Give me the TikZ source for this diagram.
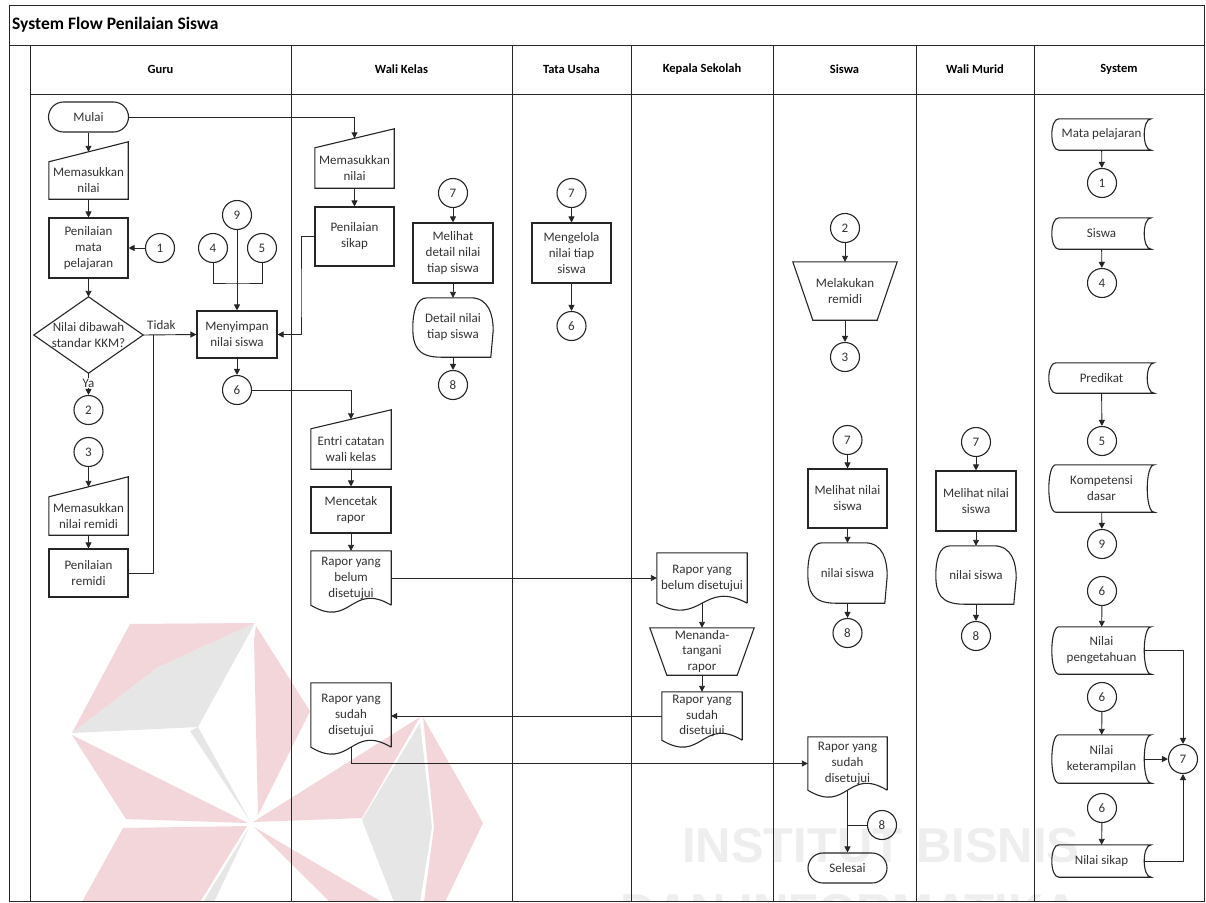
\documentclass[tikz,border=0pt]{standalone}
\usepackage{fontspec}
\setmainfont{Carlito}
\newfontfamily\wmfont{Liberation Sans}
\usetikzlibrary{arrows.meta,calc}

\definecolor{ink}{HTML}{262626}
\definecolor{txt}{HTML}{333333}
\definecolor{wmpink}{HTML}{F3D6DA}
\definecolor{wmgray}{HTML}{E6E6E6}
\definecolor{wmtext}{HTML}{EEEEEE}

\newcommand\bodyfont{\fontsize{13}{16}\selectfont}
\newcommand\headfont{\fontsize{12.5}{15}\selectfont\bfseries}
\newcommand\titlefont{\fontsize{17.5}{20}\selectfont\bfseries}

% outline helpers: each one draws a flowchart symbol around a named node
\newcommand\ShpManIn[2]{\draw[outline] (#1.north west) -- ($(#1.north east)+(0,-#2)$) -- (#1.south east) -- (#1.south west) -- cycle;}
\newcommand\ShpDoc[2]{\draw[outline] (#1.south east) -- (#1.north east) -- (#1.north west) -- (#1.south west) .. controls ($(#1.south)+(0,#2)$) and ($(#1.south)+(0,-#2)$) .. (#1.south east);}
\newcommand\ShpManOp[2]{\draw[outline] (#1.north west) -- (#1.north east) -- ($(#1.south east)+(-#2,0)$) -- ($(#1.south west)+(#2,0)$) -- cycle;}
\newcommand\ShpDiam[1]{\draw[outline] (#1.north) -- (#1.east) -- (#1.south) -- (#1.west) -- cycle;}
\newcommand\ShpStore[2]{\draw[outline] ($(#1.north west)+(#2,0)$) -- (#1.north east) .. controls ($(#1.north east)+(-1.33*#2,0)$) and ($(#1.south east)+(-1.33*#2,0)$) .. (#1.south east) -- ($(#1.south west)+(#2,0)$) .. controls ($(#1.south west)+(-0.33*#2,0)$) and ($(#1.north west)+(-0.33*#2,0)$) .. ($(#1.north west)+(#2,0)$) -- cycle;}
\newcommand\ShpDisp[1]{\draw[outline] ($(#1.north west)!0.18!(#1.north east)$) -- ($(#1.north west)!0.72!(#1.north east)$) .. controls ($(#1.north west)!0.95!(#1.north east)$) and ($(#1.north east)!0.3!(#1.south east)$) .. ($(#1.north east)!0.55!(#1.south east)$) -- ($(#1.south west)!0.97!(#1.south east)$) -- ($(#1.south west)!0.35!(#1.south east)$) .. controls ($(#1.south west)!0.05!(#1.south east)$) and ($(#1.north west)!0.8!(#1.south west)$) .. (#1.west) .. controls ($(#1.north west)!0.25!(#1.south west)$) and ($(#1.north west)!0.04!(#1.north east)$) .. ($(#1.north west)!0.18!(#1.north east)$) -- cycle;}

\begin{document}
\begin{tikzpicture}[x=1pt,y=-1pt,
  outline/.style={draw=ink, line width=1.1pt, line join=miter},
  lane/.style={draw=ink, line width=1pt},
  sz/.style 2 args={minimum width=#1, minimum height=#2},
  base/.style={rectangle, inner sep=0.5pt, align=center, font=\bodyfont, text=txt},
  plain/.style={base},
  proc/.style={base, outline},
  term/.style={base, outline, rounded corners=15pt},
  conn/.style={circle, outline, minimum size=29pt, inner sep=0pt, font=\bodyfont, text=txt},
  lbl/.style={inner sep=1pt, font=\bodyfont, text=txt},
  flow/.style={draw=ink, line width=0.9pt, -{Triangle[length=6pt,width=6pt]}},
  link/.style={draw=ink, line width=0.9pt}
]
\useasboundingbox (0,0) rectangle (1206,902);
\fill[white] (0,0) rectangle (1206,902);

% faint watermark behind the chart
\begin{scope}
\clip (9,5) rectangle (1204,901);
\fill[wmpink] (72,733) -- (130,624) -- (255,623) -- (157,668) -- cycle;
\fill[wmgray] (72,733) -- (157,668) -- (255,623) -- (198,727) -- cycle;
\fill[wmgray] (190,731) -- (198,727) -- (250,821) -- cycle;
\fill[wmpink] (72,735) -- (126,819) -- (248,823) -- cycle;
\fill[wmpink] (256,626) -- (310,711) -- (258,815) -- (254,640) -- cycle;
\fill[wmpink] (123,828) -- (247,826) -- (200,902) -- (82,902) -- cycle;
\fill[wmgray] (249,828) -- (214,902) -- (203,902) -- cycle;
\fill[wmpink] (254,827) -- (382,902) -- (330,902) -- cycle;
\fill[wmpink] (253,822) -- (420,717) -- (362,818) -- cycle;
\fill[wmgray] (362,820) -- (420,723) -- (432,827) -- (420,902) -- (394,902) -- cycle;
\fill[wmpink] (423,717) -- (483,823) -- (445,902) -- (424,902) -- (434,827) -- cycle;
\node[anchor=base west, font=\wmfont\fontsize{49}{55}\selectfont\bfseries, text=wmtext, inner sep=0pt] (wm1) at (682,862) {INSTITUT BISNIS};
\node[anchor=base west, font=\wmfont\fontsize{49}{55}\selectfont\bfseries, text=wmtext, inner sep=0pt] (wm2) at (620,928) {DAN INFORMATIKA};
\end{scope}

% pool, title and lanes
\draw[lane] (9,5) rectangle (1204,901);
\draw[lane] (9,45) -- (1204,45);
\draw[lane] (30,45) -- (30,901);
\draw[lane] (30,94) -- (1204,94);
\foreach \lx in {291,512,631,773,916,1034} \draw[lane] (\lx,45) -- (\lx,901);
\node[anchor=west, font=\titlefont, text=black, inner sep=0pt] (title) at (12,25) {System Flow Penilaian Siswa};
\node[font=\headfont, text=black] (hguru) at (160.5,69) {Guru};
\node[font=\headfont, text=black] (hwali) at (401.5,69) {Wali Kelas};
\node[font=\headfont, text=black] (htu) at (571.5,69) {Tata Usaha};
\node[font=\headfont, text=black] (hkep) at (702,69) {Kepala Sekolah};
\node[font=\headfont, text=black] (hsis) at (844.5,69) {Siswa};
\node[font=\headfont, text=black] (hwm) at (975,69) {Wali Murid};
\node[font=\headfont, text=black] (hsys) at (1119,69) {System};

% Guru
\node[term, sz={80pt}{30pt}] (mulai) at (88.5,117) {Mulai};
\node[plain, sz={79pt}{37pt}] (in1) at (88.5,180.5) {Memasukkan\\nilai};
\node[proc, sz={79pt}{60pt}] (pmp) at (88.5,248) {Penilaian\\mata\\pelajaran};
\node[conn] (c1) at (160,248) {1};
\node[conn] (c9) at (237,215) {9};
\node[conn] (c4) at (213,248) {4};
\node[conn] (c5) at (262,248) {5};
\coordinate (j45) at (237,283);
\node[plain, sz={109pt}{76pt}] (dec) at (88.5,335) {Nilai dibawah\\standar KKM?};
\node[proc, sz={80pt}{47pt}] (mns) at (237,334.5) {Menyimpan\\nilai siswa};
\node[conn] (c2) at (88.5,410) {2};
\node[conn] (c3) at (88.5,452) {3};
\node[plain, sz={79pt}{38pt}] (in2) at (88.5,516) {Memasukkan\\nilai remidi};
\node[proc, sz={79pt}{48pt}] (prm) at (88.5,573) {Penilaian\\remidi};
\coordinate (jr) at (153,335);
\node[conn] (c6a) at (237,390) {6};

% Wali Kelas
\node[plain, sz={79pt}{40pt}] (in3) at (354.5,168) {Memasukkan\\nilai};
\node[proc, sz={79pt}{59pt}] (psk) at (354.5,236.5) {Penilaian\\sikap};
\coordinate (jp) at (301,300);
\node[conn] (c7a) at (453,193) {7};
\node[proc, sz={80pt}{60pt}] (mdn) at (453,253) {Melihat\\detail nilai\\tiap siswa};
\node[plain, sz={80pt}{59pt}] (dsp1) at (453,327.5) {Detail nilai\\tiap siswa};
\node[conn] (c8a) at (453,385) {8};
\node[plain, sz={80pt}{40pt}] (ent) at (351,449) {Entri catatan\\wali kelas};
\node[proc, sz={80pt}{46pt}] (mct) at (351,510) {Mencetak\\rapor};
\node[plain, sz={80pt}{54pt}] (doc1) at (351,578) {Rapor yang\\belum\\disetujui};
\node[plain, sz={80pt}{64pt}] (doc2) at (351,715) {Rapor yang\\sudah\\disetujui};

% Tata Usaha
\node[conn] (c7b) at (571.5,193) {7};
\node[proc, sz={79pt}{60pt}] (mgl) at (571.5,253) {Mengelola\\nilai tiap\\siswa};
\node[conn] (c6b) at (571.5,326) {6};

% Kepala Sekolah
\node[plain, sz={90pt}{50pt}] (doc3) at (702,578) {Rapor yang\\belum disetujui};
\node[plain, sz={104pt}{47pt}, inner sep=0pt, font=\fontsize{13}{15.5}\selectfont] (mop) at (702,651.5) {Menanda-\\tangani\\rapor};
\node[plain, sz={80pt}{48pt}, inner sep=0pt, font=\fontsize{13}{15.5}\selectfont] (doc4) at (702,716) {Rapor yang\\sudah\\disetujui};

% Siswa
\node[conn] (c2b) at (845,228) {2};
\node[plain, sz={104pt}{58pt}] (rem) at (845,291) {Melakukan\\remidi};
\node[conn] (c3b) at (845,357) {3};
\node[conn] (c7c) at (847.5,440) {7};
\node[proc, sz={79pt}{59pt}] (mns2) at (847.5,498.5) {Melihat nilai\\siswa};
\node[plain, sz={79pt}{60pt}] (dsp2) at (847.5,573) {nilai siswa};
\node[conn] (c8b) at (847.5,633) {8};
\node[plain, sz={79pt}{53pt}, inner sep=0pt] (doc5) at (847.5,763.5) {Rapor yang\\sudah\\disetujui};
\node[term, sz={79pt}{30pt}] (sel) at (847.5,868) {Selesai};
\node[conn] (c8c) at (882,825) {8};

% Wali Murid
\node[conn] (c7d) at (976,442) {7};
\node[proc, sz={80pt}{60pt}] (mns3) at (976,501) {Melihat nilai\\siswa};
\node[plain, sz={80pt}{58pt}] (dsp3) at (976,575) {nilai siswa};
\node[conn] (c8d) at (976,636) {8};

% System
\node[plain, sz={99pt}{31pt}] (sd1) at (1101.5,134.5) {Mata pelajaran};
\node[conn] (c1b) at (1102,183) {1};
\node[plain, sz={99pt}{31pt}] (sd2) at (1101.5,233.5) {Siswa};
\node[conn] (c4b) at (1102,283) {4};
\node[plain, sz={105pt}{30pt}] (sd3) at (1101.5,378) {Predikat};
\node[conn] (c5b) at (1102,441) {5};
\node[plain, sz={105pt}{47pt}] (sd4) at (1101.5,488.5) {Kompetensi\\dasar};
\node[conn] (c9b) at (1102,544) {9};
\node[conn] (c6c) at (1102,591) {6};
\node[plain, sz={99pt}{47pt}] (sd5) at (1101.5,650.5) {Nilai\\pengetahuan};
\node[conn] (c6d) at (1102,697) {6};
\node[plain, sz={99pt}{48pt}] (sd6) at (1101.5,759) {Nilai\\keterampilan};
\node[conn] (c6e) at (1102,808) {6};
\node[plain, sz={99pt}{32pt}] (sd7) at (1101.5,861) {Nilai sikap};
\node[conn] (c7e) at (1183,759) {7};

% symbol outlines
\ShpManIn{in1}{20}
\ShpManIn{in2}{20}
\ShpManIn{in3}{19}
\ShpManIn{ent}{19}
\ShpDiam{dec}
\ShpDisp{dsp1}
\ShpDisp{dsp2}
\ShpDisp{dsp3}
\ShpDoc{doc1}{24}
\ShpDoc{doc2}{24}
\ShpDoc{doc3}{24}
\ShpDoc{doc4}{24}
\ShpDoc{doc5}{24}
\ShpManOp{mop}{17}
\ShpManOp{rem}{20}
\foreach \s in {sd1,sd2,sd3,sd4,sd5,sd6,sd7} {\ShpStore{\s}{7}}

% connectors: Guru
\draw[flow] (mulai) -- ($(in1.north)+(0,-10)$);
\draw[flow] (mulai.east) -| ($(in3.north)+(0,-9.5)$);
\draw[flow] (in1) -- (pmp);
\draw[flow] (c1) -- (pmp);
\draw[flow] (pmp) -- (dec);
\draw[flow] (dec.east) -- (mns.west);
\node[lbl, anchor=south west] (tidak) at (146,331) {Tidak};
\draw[flow] (dec.south) -- (c2);
\node[lbl, fill=white] (ya) at (88.5,383) {Ya};
\draw[flow] (c3) -- ($(in2.north)+(0,-10)$);
\draw[flow] (in2) -- (prm);
\draw[link] (prm.east) -| (jr);
\draw[link] (c4.south) |- (j45) -| (c5.south);
\draw[flow] (c9) -- (mns);
\draw[flow] (psk.west) -| (jp) |- (mns.east);
\draw[flow] (mns) -- (c6a);
\draw[flow] (c6a.east) -| ($(ent.north)+(0,-9.5)$);

% connectors: Wali Kelas
\draw[flow] (in3) -- (psk);
\draw[flow] (c7a) -- (mdn);
\draw[flow] (mdn) -- (dsp1);
\draw[flow] (dsp1) -- (c8a);
\draw[flow] (ent) -- (mct);
\draw[flow] (mct) -- (doc1);
\draw[flow] (doc1.east) -- (doc3.west);
\draw[flow] (doc2.south) |- (doc5.west);

% connectors: Tata Usaha
\draw[flow] (c7b) -- (mgl);
\draw[flow] (mgl) -- (c6b);

% connectors: Kepala Sekolah
\draw[flow] (doc3.south) -- (mop.north);
\draw[flow] (mop) -- (doc4);
\draw[flow] (doc4.west) -- (doc4.west -| doc2.east);

% connectors: Siswa and Wali Murid
\draw[flow] (c2b) -- (rem);
\draw[flow] (rem) -- (c3b);
\draw[flow] (c7c) -- (mns2);
\draw[flow] (mns2) -- (dsp2);
\draw[flow] (dsp2) -- (c8b);
\draw[flow] (doc5.south) -- (sel.north);
\draw[link] (c8c.west) -- (c8c.west -| sel.north);
\draw[flow] (c7d) -- (mns3);
\draw[flow] (mns3) -- (dsp3);
\draw[flow] (dsp3) -- (c8d);

% connectors: System
\draw[flow] (sd1) -- (c1b);
\draw[flow] (sd2) -- (c4b);
\draw[flow] (sd3) -- (c5b);
\draw[flow] (sd4) -- (c9b);
\draw[flow] (c6c) -- (sd5);
\draw[flow] (c6d) -- (sd6);
\draw[flow] (c6e) -- (sd7);
\draw[flow] ($(sd5.east)+(-7,0)$) -| (c7e.north);
\draw[flow] ($(sd6.east)+(-7,0)$) -- (c7e.west);
\draw[flow] ($(sd7.east)+(-7,0)$) -| (c7e.south);
\end{tikzpicture}
\end{document}
